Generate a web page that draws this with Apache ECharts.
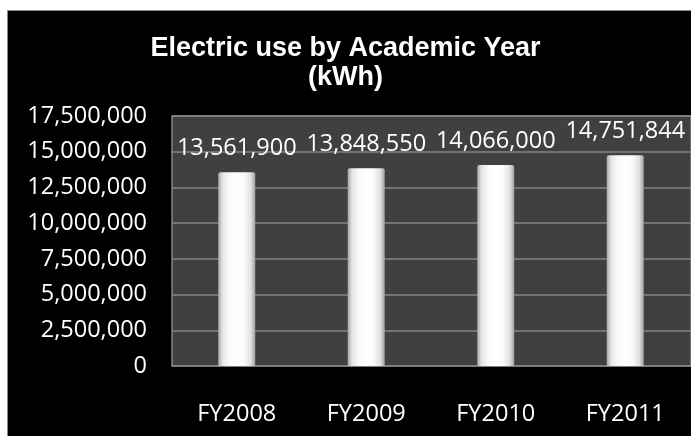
<!DOCTYPE html>
<html>
<head>
<meta charset="utf-8">
<script src="https://cdn.jsdelivr.net/npm/echarts@6/dist/echarts.min.js"></script>
<style>
html,body{margin:0;padding:0;background:#fff;}
#c{width:691px;height:436px;}
</style>
</head>
<body>
<div id="c"></div>
<script>
const categories = ['FY2008', 'FY2009', 'FY2010', 'FY2011'];
const electricUse = [13561900, 13848550, 14066000, 14751844];
const yTicks = [0, 2500000, 5000000, 7500000, 10000000, 12500000, 15000000, 17500000];
const titleText = 'Electric use by Academic Year\n(kWh)';

const fmt = v => Number(v).toLocaleString('en-US');
const lblFont = '"Open Sans", sans-serif';

const chart = echarts.init(document.getElementById('c'), null, {renderer: 'canvas'});
chart.setOption({
  backgroundColor: '#ffffff',
  animation: false,
  graphic: [{
    type: 'rect', z: -10, silent: true,
    shape: {x: 7.5, y: 10.5, width: 700, height: 440},
    style: {fill: '#000000', stroke: '#8a8a8a', lineWidth: 1}
  }],
  title: {
    text: titleText,
    left: 'center',
    top: 29,
    textStyle: {
      color: '#ffffff',
      fontFamily: '"Liberation Sans", Arial, sans-serif',
      fontWeight: 'bold',
      fontSize: 27,
      lineHeight: 29
    }
  },
  grid: [
    {left: 172, width: 518, top: 116, bottom: 70, show: false},
    {left: 172, right: -6, top: 116, bottom: 70, show: true,
     backgroundColor: '#404040', borderColor: '#858585', borderWidth: 1.5, z: -1}
  ],
  xAxis: [
    {type: 'category', gridIndex: 0, data: categories,
     axisLine: {show: false}, axisTick: {show: false},
     axisLabel: {color: '#ffffff', fontFamily: lblFont, fontSize: 23.5, margin: 36}},
    {type: 'value', gridIndex: 1, show: false, min: 0, max: 1}
  ],
  yAxis: [
    {type: 'value', gridIndex: 0, min: yTicks[0], max: yTicks[yTicks.length - 1],
     interval: yTicks[1] - yTicks[0],
     axisLine: {show: false}, axisTick: {show: false}, splitLine: {show: false},
     axisLabel: {color: '#ffffff', fontFamily: lblFont, fontSize: 23.5, margin: 25,
                 formatter: v => fmt(v)}},
    {type: 'value', gridIndex: 1, min: yTicks[0], max: yTicks[yTicks.length - 1],
     interval: yTicks[1] - yTicks[0],
     axisLine: {show: false}, axisTick: {show: false}, axisLabel: {show: false},
     splitLine: {show: true, lineStyle: {color: '#858585', width: 1.5}}}
  ],
  series: [{
    type: 'bar',
    xAxisIndex: 0, yAxisIndex: 0,
    data: electricUse,
    barWidth: 37,
    itemStyle: {
      color: new echarts.graphic.LinearGradient(0, 0, 1, 0, [
        {offset: 0, color: '#a8a8a8'},
        {offset: 0.12, color: '#e6e6e6'},
        {offset: 0.3, color: '#fafafa'},
        {offset: 0.5, color: '#ffffff'},
        {offset: 0.7, color: '#fafafa'},
        {offset: 0.88, color: '#e0e0e0'},
        {offset: 1, color: '#a0a0a0'}
      ]),
      borderRadius: [2, 2, 0, 0]
    },
    label: {
      show: true,
      position: 'top',
      distance: 12,
      color: '#ffffff',
      fontFamily: lblFont,
      fontSize: 23.5,
      formatter: p => fmt(p.value)
    }
  }]
});
</script>
</body>
</html>
